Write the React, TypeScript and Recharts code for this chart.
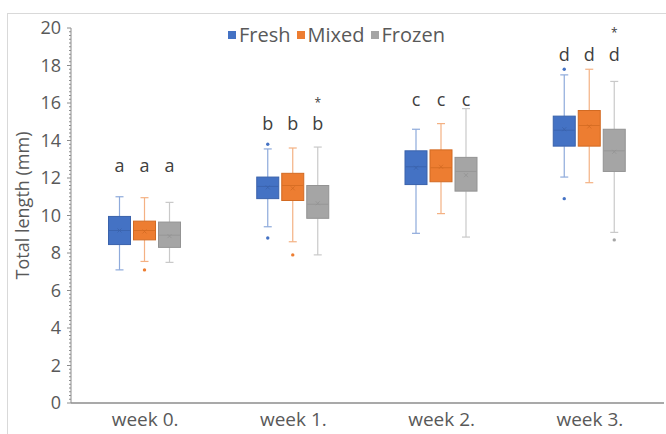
import React from "react";
import { BarChart, Bar, XAxis, YAxis, Label } from "recharts";

// categories
const weeks = ["week 0.", "week 1.", "week 2.", "week 3."];

// box stats per week: [low whisker, Q1, median, Q3, high whisker]
const freshBoxes = [
  [7.1, 8.45, 9.2, 9.95, 11.0],
  [9.4, 10.9, 11.55, 12.05, 13.55],
  [9.05, 11.65, 12.6, 13.45, 14.6],
  [12.05, 13.7, 14.55, 15.3, 17.5],
];
const mixedBoxes = [
  [7.55, 8.7, 9.2, 9.7, 10.95],
  [8.6, 10.8, 11.6, 12.25, 13.6],
  [10.1, 11.8, 12.55, 13.5, 14.9],
  [11.75, 13.7, 14.8, 15.6, 17.8],
];
const frozenBoxes = [
  [7.5, 8.3, 8.95, 9.65, 10.7],
  [7.9, 9.85, 10.6, 11.6, 13.65],
  [8.85, 11.3, 12.35, 13.1, 15.7],
  [9.1, 12.35, 13.45, 14.6, 17.15],
];

const freshMeans = [9.2, 11.5, 12.55, 14.6];
const mixedMeans = [9.15, 11.45, 12.6, 14.75];
const frozenMeans = [8.9, 10.65, 12.15, 13.4];

const freshOutliers = [[], [13.8, 8.8], [], [17.8, 10.9]];
const mixedOutliers = [[7.1], [7.9], [], []];
const frozenOutliers = [[], [], [], [8.7]];

// significance letters above each group
const groupLetters = ["a", "b", "c", "d"];
const letterLevels = [12.6, 14.85, 16.15, 18.55];
const frozenStars = [null, 16.15, null, 19.85];

const yTickLabels = [0, 2, 4, 6, 8, 10, 12, 14, 16, 18, 20];

const series = [
  { key: "fresh", name: "Fresh", fill: "#4472C4", edge: "#3a62ab", whisker: "#8eaadb", boxes: freshBoxes, means: freshMeans, outliers: freshOutliers, stars: [null, null, null, null] },
  { key: "mixed", name: "Mixed", fill: "#ED7D31", edge: "#d26a22", whisker: "#f4b183", boxes: mixedBoxes, means: mixedMeans, outliers: mixedOutliers, stars: [null, null, null, null] },
  { key: "frozen", name: "Frozen", fill: "#A5A5A5", edge: "#939393", whisker: "#c9c9c9", boxes: frozenBoxes, means: frozenMeans, outliers: frozenOutliers, stars: frozenStars },
];

const rows = weeks.map((week, i) => {
  const row: any = { week };
  series.forEach((s) => {
    const b = s.boxes[i];
    const all = [...b, ...s.outliers[i], letterLevels[i]];
    if (s.stars[i] != null) all.push(s.stars[i] as number);
    row[s.key] = {
      box: b,
      mean: s.means[i],
      outliers: s.outliers[i],
      letter: groupLetters[i],
      letterAt: letterLevels[i],
      star: s.stars[i],
      range: [Math.min(...all), Math.max(...all)],
    };
  });
  return row;
});

// minor ticks every 0.2 give the dotted axis look
const yTicks = Array.from({ length: 101 }, (_, i) => +(i * 0.2).toFixed(1));

const textColor = "#595959";
const font = "'Open Sans', sans-serif";

function YTick(props: any) {
  const { x, y, payload } = props;
  const v = payload.value;
  const major = yTickLabels.includes(v);
  return (
    <g>
      <line x1={x - (major ? 4 : 2)} x2={x} y1={y} y2={y} stroke="#8c8c8c" strokeWidth={1} />
      {major && (
        <text x={x - 10} y={y} dy="0.36em" textAnchor="end" fontSize={18} fill={textColor} fontFamily={font}>
          {v}
        </text>
      )}
    </g>
  );
}

function makeShape(s: any) {
  return (props: any) => {
    const { x, y, width, height, payload } = props;
    const st = payload[s.key];
    const [lo, hi] = st.range;
    const toY = (v: number) => y + ((hi - v) / (hi - lo)) * height;
    const [wl, q1, med, q3, wh] = st.box;
    const cx = x + width / 2;
    const cap = 4;
    const my = toY(st.mean);
    return (
      <g>
        <line x1={cx} x2={cx} y1={toY(wh)} y2={toY(q3)} stroke={s.whisker} strokeWidth={1.2} />
        <line x1={cx} x2={cx} y1={toY(q1)} y2={toY(wl)} stroke={s.whisker} strokeWidth={1.2} />
        <line x1={cx - cap} x2={cx + cap} y1={toY(wh)} y2={toY(wh)} stroke={s.whisker} strokeWidth={1.2} />
        <line x1={cx - cap} x2={cx + cap} y1={toY(wl)} y2={toY(wl)} stroke={s.whisker} strokeWidth={1.2} />
        <rect x={x + 0.5} y={toY(q3)} width={width - 1} height={toY(q1) - toY(q3)} fill={s.fill} stroke={s.edge} strokeWidth={1} />
        <line x1={x + 1} x2={x + width - 1} y1={toY(med)} y2={toY(med)} stroke={s.edge} strokeOpacity={0.8} strokeWidth={1} />
        <path d={`M${cx - 2},${my - 2}L${cx + 2},${my + 2}M${cx - 2},${my + 2}L${cx + 2},${my - 2}`} stroke={s.edge} strokeWidth={0.8} />
        {st.outliers.map((o: number, k: number) => (
          <circle key={k} cx={cx} cy={toY(o)} r={1.7} fill={s.fill} />
        ))}
        <text x={cx} y={toY(st.letterAt)} dy="0.3em" textAnchor="middle" fontSize={18} fill="#404040" fontFamily={font}>
          {st.letter}
        </text>
        {st.star != null && (
          <text x={cx} y={toY(st.star)} dy="0.55em" textAnchor="middle" fontSize={12} fill="#404040" fontFamily={font}>
            *
          </text>
        )}
      </g>
    );
  };
}

export default function App() {
  return (
    <div style={{ position: "fixed", left: 0, top: 0, width: 666, height: 434, background: "#fff", fontFamily: font }}>
      <div style={{ position: "absolute", left: 7, top: 13, right: 0, bottom: 0, borderLeft: "1px solid #d9d9d9", borderTop: "1px solid #d9d9d9" }} />
      <div style={{ position: "absolute", left: 0, top: 0 }}>
        <BarChart
          width={666}
          height={434}
          data={rows}
          margin={{ top: 28, right: 2, bottom: 1, left: 0 }}
          barGap={2}
          barCategoryGap={37}
        >
          <XAxis
            dataKey="week"
            height={30}
            tickLine={false}
            tickSize={0}
            tickMargin={10}
            axisLine={{ stroke: "#8c8c8c", strokeWidth: 1.5 }}
            tick={{ fontSize: 19, fill: textColor, fontFamily: font }}
          />
          <YAxis
            type="number"
            domain={[0, 20]}
            ticks={yTicks}
            interval={0}
            width={71}
            tickSize={0}
            tickMargin={0}
            tickLine={false}
            axisLine={{ stroke: "#8c8c8c" }}
            tick={<YTick />}
          >
            <Label
              content={(p: any) => {
                const vb = p.viewBox || { y: 28, height: 375 };
                const cy = vb.y + vb.height / 2 - 10;
                return (
                  <text
                    transform={`translate(22,${cy}) rotate(-90)`}
                    textAnchor="middle"
                    dominantBaseline="central"
                    fontSize={18}
                    fill={textColor}
                    fontFamily={font}
                  >
                    Total length (mm)
                  </text>
                );
              }}
            />
          </YAxis>
          {series.map((s) => (
            <Bar
              key={s.key}
              name={s.name}
              dataKey={(d: any) => d[s.key].range}
              fill={s.fill}
              shape={makeShape(s)}
              isAnimationActive={false}
            />
          ))}
        </BarChart>
      </div>
      <div style={{ position: "absolute", left: 228, top: 21, display: "flex", alignItems: "center", fontSize: 20, color: textColor, whiteSpace: "nowrap" }}>
        {series.map((s) => (
          <div key={s.key} style={{ display: "flex", alignItems: "center", marginRight: 6 }}>
            <span style={{ display: "inline-block", width: 8, height: 8, background: s.fill, marginRight: 3 }} />
            <span>{s.name}</span>
          </div>
        ))}
      </div>
    </div>
  );
}
